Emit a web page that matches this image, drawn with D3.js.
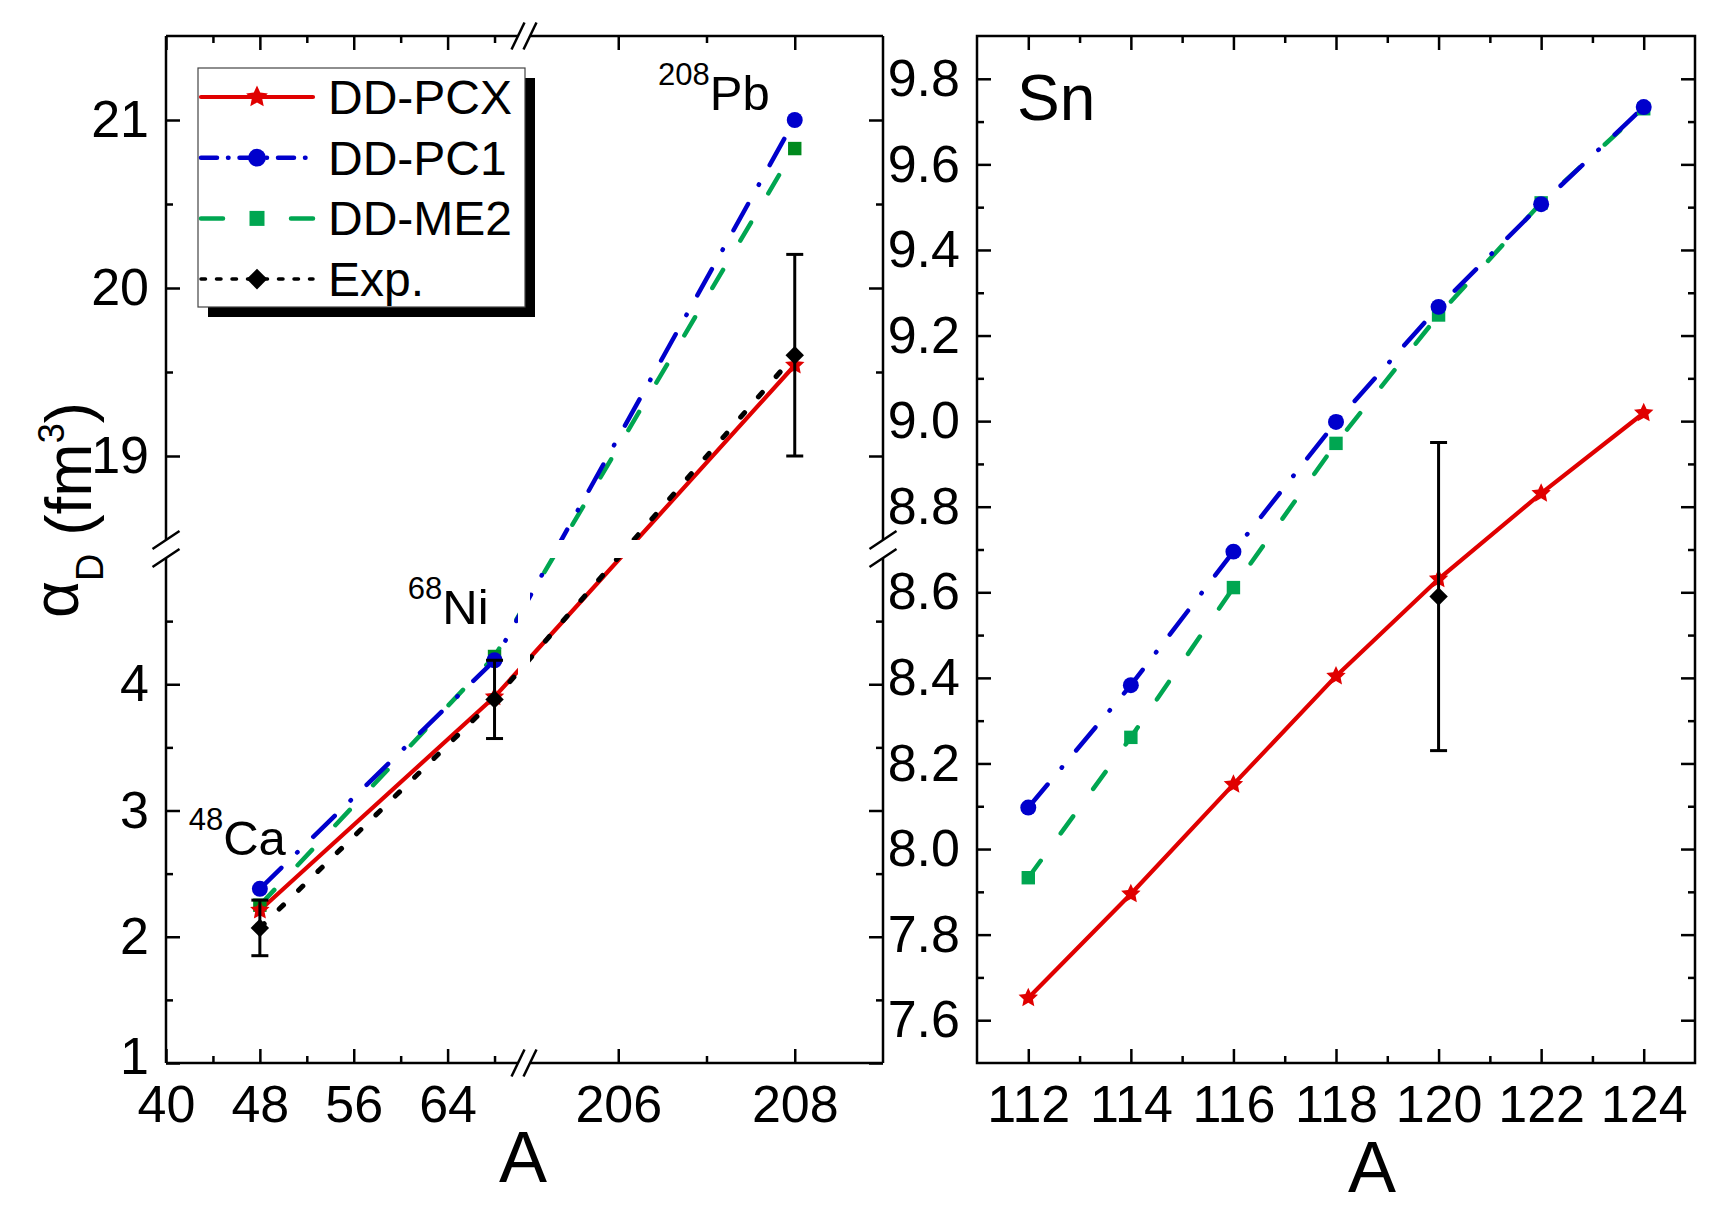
<!DOCTYPE html>
<html>
<head>
<meta charset="utf-8">
<script src="https://cdn.jsdelivr.net/npm/d3@7"></script>
<style>
  body { margin: 0; background: #fff; }
  svg text { font-family: 'Liberation Sans', Arial, sans-serif; fill: #000; }
</style>
</head>
<body>
<svg id="chart" width="1711" height="1209"></svg>
<script>
'use strict'

// left panel: 48Ca, 68Ni, 208Pb
const nucleiA = [48, 68, 208]
const pcxLeft = [2.21, 3.90, 19.54]
const pc1Left = [2.38, 4.19, 21.0]
const me2Left = [2.25, 4.22, 20.83]
const expLeft = [2.07, 3.88, 19.6]
const expLeftErr = [0.22, 0.31, 0.6]
const isotopeMass = ['48', '68', '208']
const isotopeName = ['Ca', 'Ni', 'Pb']

// right panel: Sn chain
const snA = [112, 114, 116, 118, 120, 122, 124]
const pcxSn = [7.652, 7.895, 8.151, 8.404, 8.631, 8.831, 9.019]
const pc1Sn = [8.097, 8.383, 8.695, 8.998, 9.267, 9.507, 9.734]
const me2Sn = [7.933, 8.261, 8.611, 8.948, 9.248, 9.51, 9.73]
const expSnA = [120]
const expSn = [8.59]
const expSnErr = [0.36]

const seriesNames = ['DD-PCX', 'DD-PC1', 'DD-ME2', 'Exp.']

const leftXMajor = [40, 48, 56, 64, 206, 208]
const leftXMinor = [44, 52, 60, 68, 207]
const leftYMajor = [1, 2, 3, 4, 19, 20, 21]
const leftYMinor = [1.5, 2.5, 3.5, 4.5, 19.5, 20.5]
const snXMajor = [112, 114, 116, 118, 120, 122, 124]
const snXMinor = [113, 115, 117, 119, 121, 123]
const snYMajor = [7.6, 7.8, 8.0, 8.2, 8.4, 8.6, 8.8, 9.0, 9.2, 9.4, 9.6, 9.8]
const snYMinor = [7.7, 7.9, 8.1, 8.3, 8.5, 8.7, 8.9, 9.1, 9.3, 9.5, 9.7]

const FONT = "'Liberation Sans', Arial, sans-serif"
const red = '#e00000'
const blue = '#0000cc'
const green = '#00a651'
const greenDark = '#008a1e'

const svg = d3.select('#chart')

// broken axes of the left panel
const xLow = d3.scaleLinear().domain([40, 70]).range([166, 518])
const xHigh = d3.scaleLinear().domain([205, 209]).range([530, 883])
const yLow = d3.scaleLinear().domain([1, 5]).range([1063, 558])
const yHigh = d3.scaleLinear().domain([18.5, 21.5]).range([540, 36])
const lx = a => a < 100 ? xLow(a) : xHigh(a)
const ly = v => v < 10 ? yLow(v) : yHigh(v)

const xSn = d3.scaleLinear().domain([111, 125]).range([977, 1695])
const ySn = d3.scaleLinear().domain([7.5, 9.9]).range([1063, 36])

// five-point star with a fuller body than d3.symbolStar
const fatStar = {
  draw (ctx, size) {
    const r = Math.sqrt(size * 0.55)
    const ri = r * 0.48
    for (let i = 0; i < 10; i++) {
      const rr = i % 2 ? ri : r
      const a = -Math.PI / 2 + i * Math.PI / 5
      if (i === 0) ctx.moveTo(rr * Math.cos(a), rr * Math.sin(a))
      else ctx.lineTo(rr * Math.cos(a), rr * Math.sin(a))
    }
    ctx.closePath()
  }
}

const styles = [
  { color: red, dash: null, legendDash: null, width: 4.2, symbol: fatStar, size: 190, rot: 0 },
  { color: blue, dash: '30 22 0.5 22', legendDash: '16 11 0.5 11', width: 4.5, symbol: d3.symbolCircle, size: 200, rot: 0 },
  { color: green, dash: '21 34', legendDash: '22 68 23', width: 4.5, symbol: d3.symbolSquare, size: 180, rot: 0 },
  { color: '#000', dash: '6 21', legendDash: '4.5 11', width: 5, symbol: d3.symbolSquare, size: 170, rot: 45 }
]

function drawAxis (axisFn, scale, major, minor, tx, ty, fmt, pad) {
  const dom = scale.domain()
  const inside = v => v >= d3.min(dom) - 1e-9 && v <= d3.max(dom) + 1e-9
  const g = svg.append('g').attr('transform', `translate(${tx},${ty})`)
  g.append('g').call(axisFn(scale)
    .tickValues(major.filter(inside))
    .tickSize(-14).tickSizeOuter(0).tickPadding(pad || 0)
    .tickFormat(fmt ? d3.format(fmt) : () => ''))
  g.append('g').call(axisFn(scale)
    .tickValues(minor.filter(inside))
    .tickSize(-7).tickSizeOuter(0)
    .tickFormat(() => ''))
  g.selectAll('.domain').remove()
  g.selectAll('.tick line').attr('stroke', '#000').attr('stroke-width', 2.5)
  g.selectAll('g').attr('font-size', 52).attr('font-family', FONT)
  return g
}

function drawSeries (panel, xs, ys, style, fx, fy) {
  const pts = xs.map((x, i) => [fx(x), fy(ys[i])])
  panel.append('path')
    .datum(pts)
    .attr('d', d3.line())
    .attr('fill', 'none')
    .attr('stroke', style.color)
    .attr('stroke-width', style.width)
    .attr('stroke-linecap', 'round')
    .attr('stroke-dasharray', style.dash)
}

function drawMarkers (panel, xs, ys, style, fx, fy, color) {
  panel.append('g').selectAll('path')
    .data(xs.map((x, i) => [fx(x), fy(ys[i])]))
    .join('path')
    .attr('transform', d => `translate(${d[0]},${d[1]}) rotate(${style.rot})`)
    .attr('d', d3.symbol(style.symbol, style.size))
    .attr('fill', color || style.color)
}

function drawErrors (panel, xs, ys, errs, fx, fy) {
  const g = panel.append('g').attr('stroke', '#000').attr('stroke-width', 3)
  xs.forEach((x, i) => {
    const cx = fx(x)
    const y0 = fy(ys[i] - errs[i])
    const y1 = fy(ys[i] + errs[i])
    g.append('line').attr('x1', cx).attr('x2', cx).attr('y1', y0).attr('y2', y1)
    g.append('line').attr('x1', cx - 8.5).attr('x2', cx + 8.5).attr('y1', y0).attr('y2', y0)
    g.append('line').attr('x1', cx - 8.5).attr('x2', cx + 8.5).attr('y1', y1).attr('y2', y1)
  })
}

// ---------- left panel ----------
const left = svg.append('g')
const leftData = [pcxLeft, pc1Left, me2Left, expLeft]
;[2, 1, 0, 3].forEach(k => drawSeries(left, nucleiA, leftData[k], styles[k], lx, ly))

// white bands of the broken axes
left.append('rect')
  .attr('x', xLow.range()[1]).attr('width', xHigh.range()[0] - xLow.range()[1])
  .attr('y', yHigh.range()[1]).attr('height', yLow.range()[0] - yHigh.range()[1])
  .attr('fill', '#fff')
left.append('rect')
  .attr('x', xLow.range()[0]).attr('width', xHigh.range()[1] - xLow.range()[0])
  .attr('y', yHigh.range()[0]).attr('height', yLow.range()[1] - yHigh.range()[0])
  .attr('fill', '#fff')

drawMarkers(left, nucleiA, me2Left, styles[2], lx, ly, greenDark)
drawMarkers(left, nucleiA, pc1Left, styles[1], lx, ly)
drawMarkers(left, nucleiA, pcxLeft, styles[0], lx, ly)
drawErrors(left, nucleiA, expLeft, expLeftErr, lx, ly)
drawMarkers(left, nucleiA, expLeft, styles[3], lx, ly)

// isotope labels (anchor at end, in data units)
const labelPos = [[48, 2.65, 26], [68, 4.48, -6], [208, 21.06, -25]]
labelPos.forEach((p, i) => {
  const t = left.append('text')
    .attr('x', lx(p[0]) + p[2]).attr('y', ly(p[1]))
    .attr('text-anchor', 'end')
  t.append('tspan').attr('font-size', 31).attr('dy', -25).text(isotopeMass[i])
  t.append('tspan').attr('font-size', 49).attr('dy', 25).text(isotopeName[i])
})

// axes: ticks on all four sides
drawAxis(d3.axisBottom, xLow, leftXMajor, leftXMinor, 0, 1063, 'd', 22)
drawAxis(d3.axisBottom, xHigh, leftXMajor, leftXMinor, 0, 1063, 'd', 22)
drawAxis(d3.axisTop, xLow, leftXMajor, leftXMinor, 0, 36)
drawAxis(d3.axisTop, xHigh, leftXMajor, leftXMinor, 0, 36)
const yLowAxis = drawAxis(d3.axisLeft, yLow, leftYMajor, leftYMinor, 166, 0, 'd', 17)
drawAxis(d3.axisLeft, yHigh, leftYMajor, leftYMinor, 166, 0, 'd', 17)
drawAxis(d3.axisRight, yLow, leftYMajor, leftYMinor, 883, 0)
drawAxis(d3.axisRight, yHigh, leftYMajor, leftYMinor, 883, 0)
// the "1" sits in the corner next to "40": lift it a little
yLowAxis.selectAll('.tick text').filter(d => d === 1).attr('dy', '0.2em')

// frame with gaps and break marks
const frame = svg.append('g').attr('stroke', '#000').attr('stroke-width', 2.5).attr('fill', 'none')
const [fx0, bx0] = xLow.range()
const [bx1, fx1] = xHigh.range()
const [fy1, by1] = yLow.range()
const [by0, fy0] = yHigh.range()
const segs = [
  [fx0, fy0, bx0, fy0], [bx1, fy0, fx1, fy0],
  [fx0, fy1, bx0, fy1], [bx1, fy1, fx1, fy1],
  [fx0, fy0, fx0, by0], [fx0, by1, fx0, fy1],
  [fx1, fy0, fx1, by0], [fx1, by1, fx1, fy1]
]
;[bx0, bx1].forEach(bx => [fy0, fy1].forEach(yy => segs.push([bx - 6.5, yy + 13.5, bx + 6.5, yy - 13.5])))
;[by0, by1].forEach(by => [fx0, fx1].forEach(xx => segs.push([xx - 13.5, by + 9, xx + 13.5, by - 9])))
frame.selectAll('line').data(segs).join('line')
  .attr('x1', d => d[0]).attr('y1', d => d[1]).attr('x2', d => d[2]).attr('y2', d => d[3])

// legend
const legend = svg.append('g')
legend.append('rect').attr('x', 208).attr('y', 78).attr('width', 327).attr('height', 239).attr('fill', '#000')
legend.append('rect').attr('x', 198).attr('y', 68).attr('width', 327).attr('height', 239)
  .attr('fill', '#fff').attr('stroke', '#444').attr('stroke-width', 1.2)
seriesNames.forEach((name, i) => {
  const st = styles[i]
  const cy = 97 + i * 60.7
  legend.append('line')
    .attr('x1', 201).attr('x2', 313).attr('y1', cy).attr('y2', cy)
    .attr('stroke', st.color).attr('stroke-width', i === 3 ? 3.5 : st.width)
    .attr('stroke-linecap', 'round')
    .attr('stroke-dasharray', st.legendDash)
  legend.append('path')
    .attr('transform', `translate(257,${cy}) rotate(${st.rot})`)
    .attr('d', d3.symbol(st.symbol, st.size * 1.25))
    .attr('fill', st.color)
  legend.append('text')
    .attr('x', 328).attr('y', cy).attr('dy', '0.35em')
    .attr('font-size', 48)
    .text(name)
})

// y title
const yTitle = svg.append('text')
  .attr('transform', 'translate(91,510) rotate(-90)')
  .attr('text-anchor', 'middle')
  .attr('font-size', 64)
yTitle.append('tspan').attr('dy', -13).text('α')
yTitle.append('tspan').attr('font-size', 38).attr('dy', 25).text('D')
yTitle.append('tspan').attr('dy', -12).text(' (fm')
yTitle.append('tspan').attr('font-size', 36).attr('dy', -27).text('3')
yTitle.append('tspan').attr('dy', 27).text(')')

svg.append('text').attr('x', 523).attr('y', 1182).attr('text-anchor', 'middle').attr('font-size', 72).text('A')

// ---------- right panel ----------
const right = svg.append('g')
const snData = [pcxSn, pc1Sn, me2Sn]
;[2, 1, 0].forEach(k => drawSeries(right, snA, snData[k], styles[k], xSn, ySn))
drawMarkers(right, snA, me2Sn, styles[2], xSn, ySn)
drawMarkers(right, snA, pc1Sn, styles[1], xSn, ySn)
drawMarkers(right, snA, pcxSn, styles[0], xSn, ySn)
drawErrors(right, expSnA, expSn, expSnErr, xSn, ySn)
drawMarkers(right, expSnA, expSn, styles[3], xSn, ySn)

drawAxis(d3.axisBottom, xSn, snXMajor, snXMinor, 0, 1063, 'd', 22)
drawAxis(d3.axisTop, xSn, snXMajor, snXMinor, 0, 36)
drawAxis(d3.axisLeft, ySn, snYMajor, snYMinor, 977, 0, '.1f', 17)
drawAxis(d3.axisRight, ySn, snYMajor, snYMinor, 1695, 0)

svg.append('rect')
  .attr('x', xSn.range()[0]).attr('y', ySn.range()[1])
  .attr('width', xSn.range()[1] - xSn.range()[0]).attr('height', ySn.range()[0] - ySn.range()[1])
  .attr('fill', 'none').attr('stroke', '#000').attr('stroke-width', 2.5)

svg.append('text').attr('x', 1017).attr('y', 120).attr('font-size', 64).text('Sn')
svg.append('text').attr('x', 1372).attr('y', 1192).attr('text-anchor', 'middle').attr('font-size', 72).text('A')
</script>
</body>
</html>
